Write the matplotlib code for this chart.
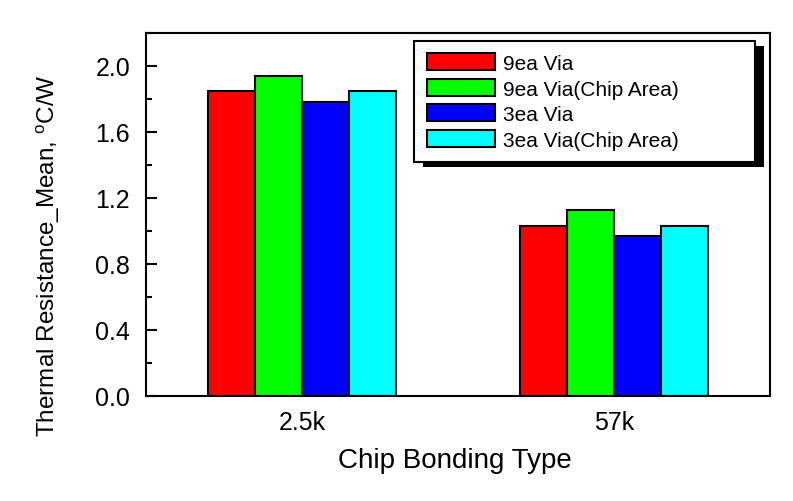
import matplotlib
matplotlib.use("Agg")
import matplotlib.pyplot as plt
from matplotlib.patches import Rectangle
from matplotlib.ticker import MultipleLocator, FormatStrFormatter
import numpy as np

plt.rcParams['font.family'] = ['Liberation Sans', 'DejaVu Sans']
plt.rcParams['mathtext.fontset'] = 'custom'
plt.rcParams['mathtext.rm'] = 'Liberation Sans'
plt.rcParams['mathtext.it'] = 'Liberation Sans:italic'

# ---- data ----
categories = ["2.5k", "57k"]
series_names = ["9ea Via", "9ea Via(Chip Area)", "3ea Via", "3ea Via(Chip Area)"]
via9 = [1.85, 1.03]
via9_chip = [1.94, 1.13]
via3 = [1.78, 0.97]
via3_chip = [1.85, 1.03]
series_values = [via9, via9_chip, via3, via3_chip]
colors = ["#ff0000", "#00ff00", "#0000ff", "#00ffff"]
y_ticks = [0.0, 0.4, 0.8, 1.2, 1.6, 2.0]

fig = plt.figure(figsize=(7.93, 5.02), dpi=100)
ax = fig.add_axes([146/793, 105/502, 624/793, 363/502])

x = np.arange(len(categories))
w = 0.15
for j, (name, vals, c) in enumerate(zip(series_names, series_values, colors)):
    ax.bar(x + (j - 1.5) * w, vals, width=w, color=c, edgecolor='black',
           linewidth=1.5, label=name, zorder=2)

ax.set_xlim(-0.5, 1.5)
ax.set_ylim(0, 2.2)
ax.set_xticks(x)
ax.set_xticklabels(categories)
ax.set_yticks(y_ticks)
ax.yaxis.set_major_formatter(FormatStrFormatter('%.1f'))
ax.yaxis.set_minor_locator(MultipleLocator(0.2))

for s in ax.spines.values():
    s.set_linewidth(1.5)

ax.tick_params(axis='y', which='major', direction='in', length=8, width=1.5,
               labelsize=18, pad=11.5)
ax.tick_params(axis='y', which='minor', direction='in', length=4.5, width=1.5)
ax.tick_params(axis='x', which='both', length=0, labelsize=18, pad=10)

ax.set_xlabel("Chip Bonding Type", fontsize=20)
ax.xaxis.set_label_coords(0.495, -0.14)
ax.set_ylabel(r"Thermal Resistance_Mean, $^{\mathrm{o}}$C/W", fontsize=17.5)
ax.yaxis.set_label_coords(-0.134, 0.388)

leg = ax.legend(loc='upper left', bbox_to_anchor=(0.4295, 0.645, 0.5465, 0.333),
                mode='expand', borderaxespad=0, fontsize=15, frameon=True,
                fancybox=False, framealpha=1, edgecolor='black',
                handlelength=3.3, handleheight=0.87, handletextpad=0.38,
                labelspacing=0.28, borderpad=0.6)
leg.get_frame().set_linewidth(1.5)
leg.set_zorder(5)

fig.canvas.draw()
bb = leg.get_window_extent()
shadow = Rectangle((bb.x0 + 9, bb.y0 - 5), bb.width, bb.height,
                   transform=None, facecolor='black', edgecolor='none',
                   clip_on=False, zorder=4.9)
ax.add_patch(shadow)

fig.savefig("out.png", dpi=100)
